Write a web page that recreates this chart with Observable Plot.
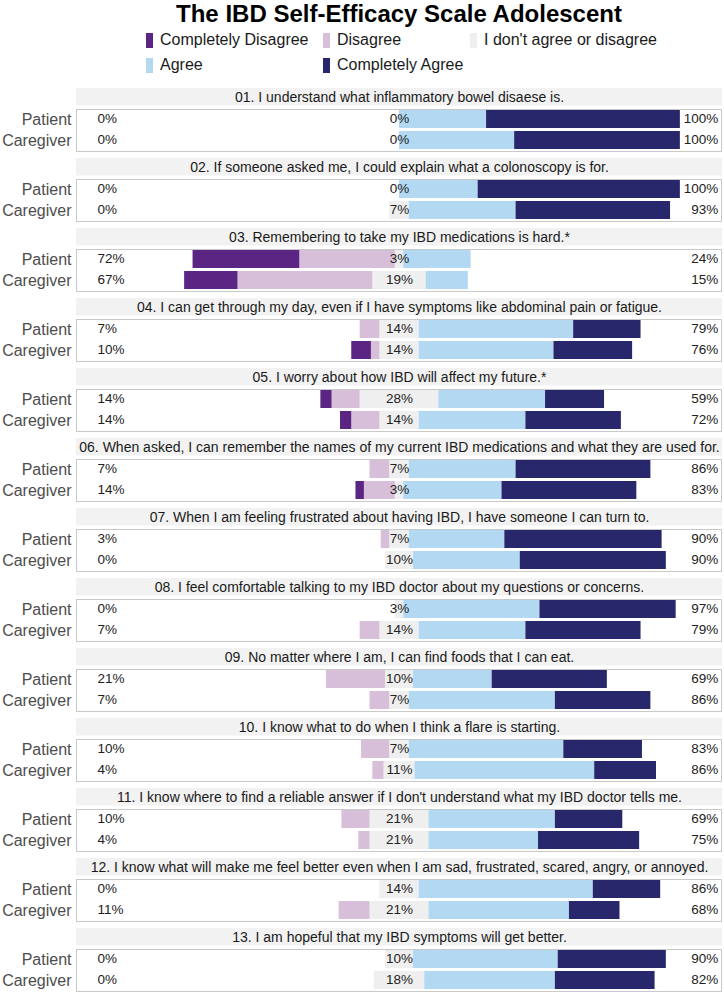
<!DOCTYPE html>
<html>
<head>
<meta charset="utf-8">
<script src="https://cdn.jsdelivr.net/npm/d3@7"></script>
<script src="https://cdn.jsdelivr.net/npm/@observablehq/plot@0.6"></script>
<style>
  html, body { margin: 0; padding: 0; background: #fff; overflow: hidden; }
  body { width: 724px; height: 999px; font-family: "Liberation Sans", Arial, Helvetica, sans-serif; }
  #header { position: relative; height: 86px; width: 724px; }
  #title { position: absolute; top: 0; left: 399px; transform: translateX(-50%); white-space: nowrap;
           font-size: 24px; line-height: normal; font-weight: bold; color: #000; }
  .item { position: absolute; height: 20px; display: flex; align-items: center; white-space: nowrap;
          font-size: 16px; color: #1a1a1a; }
  .sw { width: 7px; height: 15px; margin-right: 7px; flex: none; }
  #chart svg { display: block; }
</style>
</head>
<body>
<div id="header">
  <div id="title">The IBD Self-Efficacy Scale Adolescent</div>
</div>
<div id="chart"></div>
<script>
const questions = [
  "01. I understand what inflammatory bowel disaese is.",
  "02. If someone asked me, I could explain what a colonoscopy is for.",
  "03. Remembering to take my IBD medications is hard.*",
  "04. I can get through my day, even if I have symptoms like abdominal pain or fatigue.",
  "05. I worry about how IBD will affect my future.*",
  "06. When asked, I can remember the names of my current IBD medications and what they are used for.",
  "07. When I am feeling frustrated about having IBD, I have someone I can turn to.",
  "08. I feel comfortable talking to my IBD doctor about my questions or concerns.",
  "09. No matter where I am, I can find foods that I can eat.",
  "10. I know what to do when I think a flare is starting.",
  "11. I know where to find a reliable answer if I don't understand what my IBD doctor tells me.",
  "12. I know what will make me feel better even when I am sad, frustrated, scared, angry, or annoyed.",
  "13. I am hopeful that my IBD symptoms will get better."
];
const groups = ["Patient", "Caregiver"];
const responses = ["Completely Disagree", "Disagree", "I don't agree or disagree", "Agree", "Completely Agree"];
const colors = ["#5b2683", "#d7bfd9", "#efefef", "#b3d8f1", "#29276b"];

// per question: [Patient, Caregiver] percentages
const completelyDisagree = [[0,0],[0,0],[38,19],[0,7],[4,4],[0,3],[0,0],[0,0],[0,0],[0,0],[0,0],[0,0],[0,0]];
const disagree           = [[0,0],[0,0],[34,48],[7,3],[10,10],[7,11],[3,0],[0,7],[21,7],[10,4],[10,4],[0,11],[0,0]];
const neutral            = [[0,0],[0,7],[3,19],[14,14],[28,14],[7,3],[7,10],[3,14],[10,7],[7,11],[21,21],[14,21],[10,18]];
const agree              = [[31,41],[28,38],[24,15],[55,48],[38,38],[38,35],[34,38],[48.5,38],[28,52],[55,64],[45,39],[62,50],[51.5,46.5]];
const completelyAgree    = [[69,59],[72,55],[0,0],[24,28],[21,34],[48,48],[56,52],[48.5,41],[41,34],[28,22],[24,36],[24,18],[38.5,35.5]];

// printed labels
const disagreeLabels = [[0,0],[0,0],[72,67],[7,10],[14,14],[7,14],[3,0],[0,7],[21,7],[10,4],[10,4],[0,11],[0,0]];
const neutralLabels  = [[0,0],[0,7],[3,19],[14,14],[28,14],[7,3],[7,10],[3,14],[10,7],[7,11],[21,21],[14,21],[10,18]];
const agreeLabels    = [[100,100],[100,93],[24,15],[79,76],[59,72],[86,83],[90,90],[97,79],[69,86],[83,86],[69,75],[86,68],[90,82]];

// legend (HTML)
const header = document.getElementById("header");
const legendPos = [[146,30],[323,30],[470,30],[146,55],[323,55]];
responses.forEach((r, i) => {
  const d = document.createElement("div");
  d.className = "item";
  d.style.left = legendPos[i][0] + "px";
  d.style.top = legendPos[i][1] + "px";
  d.innerHTML = `<span class="sw" style="background:${colors[i]}"></span><span>${r}</span>`;
  header.appendChild(d);
});

// long-form segments for diverging stack
const segs = [];
const rows = [];
questions.forEach((q, i) => groups.forEach((g, j) => {
  const cd = completelyDisagree[i][j], di = disagree[i][j], ne = neutral[i][j], ag = agree[i][j], ca = completelyAgree[i][j];
  segs.push({q, g, r: responses[2], v: -ne / 2});
  segs.push({q, g, r: responses[1], v: -di});
  segs.push({q, g, r: responses[0], v: -cd});
  segs.push({q, g, r: responses[2], v: ne / 2});
  segs.push({q, g, r: responses[3], v: ag});
  segs.push({q, g, r: responses[4], v: ca});
  rows.push({q, g, dis: disagreeLabels[i][j], neu: neutralLabels[i][j], agr: agreeLabels[i][j]});
}));

const H = 913;
const yOuter = 0.1;
const bw = H / questions.length / (3 + 2 * yOuter);

const chart = Plot.plot({
  width: 724,
  height: H,
  marginLeft: 76,
  marginRight: 2,
  marginTop: 0,
  marginBottom: 0,
  style: {fontFamily: "'Liberation Sans', Arial, sans-serif", fontSize: "13px", background: "white"},
  x: {domain: [-115, 115], axis: null},
  y: {domain: ["strip", "Patient", "Caregiver"], paddingInner: 0, paddingOuter: yOuter, align: 0, axis: null},
  fy: {domain: questions, padding: 0, axis: null},
  color: {domain: responses, range: colors},
  marks: [
    // strip background
    Plot.barX(questions, {fy: d => d, y: () => "strip", x1: () => -115, x2: () => 115, fill: "#f2f2f2", insetTop: 0, insetBottom: 3.5}),
    // panel body box
    Plot.barX(questions, {fy: d => d, y: () => "Patient", x1: () => -115, x2: () => 115, fill: "white", stroke: "#c8c8c8", strokeWidth: 1, insetLeft: 0.5, insetRight: 0.5, insetTop: 0.5, insetBottom: -bw + 0.5}),
    // strip text
    Plot.text(questions, {fy: d => d, y: () => "strip", x: () => 0, text: d => d, fontSize: 14, fill: "#1a1a1a", dy: -1.5}),
    // bars
    Plot.barX(segs, Plot.stackX({x: "v", y: "g", fy: "q", fill: "r", order: [responses[2], responses[1], responses[0], responses[3], responses[4]], insetTop: 1, insetBottom: 2})),
    // center dashed line
    Plot.ruleX(questions, {fy: d => d, x: () => 0, y: () => "Patient", insetTop: 0.5, insetBottom: -bw + 0.5, stroke: "#333", strokeWidth: 0.8, strokeDasharray: "3,3"}),
    // y labels
    Plot.axisY(["Patient", "Caregiver"], {tickSize: 0, tickPadding: 5, fontSize: 16, color: "#4d4d4d", label: null}),
    // percent labels
    Plot.text(rows, {fy: "q", y: "g", x: () => -107.5, text: d => d.dis + "%", textAnchor: "start", fontSize: 13.5, fill: "#222", dy: -1}),
    Plot.text(rows, {fy: "q", y: "g", x: () => 0, text: d => d.neu + "%", fontSize: 13.5, fill: "#222", dy: -1}),
    Plot.text(rows, {fy: "q", y: "g", x: () => 113.5, text: d => d.agr + "%", textAnchor: "end", fontSize: 13.5, fill: "#222", dy: -1})
  ]
});
document.getElementById("chart").appendChild(chart);
</script>
</body>
</html>
